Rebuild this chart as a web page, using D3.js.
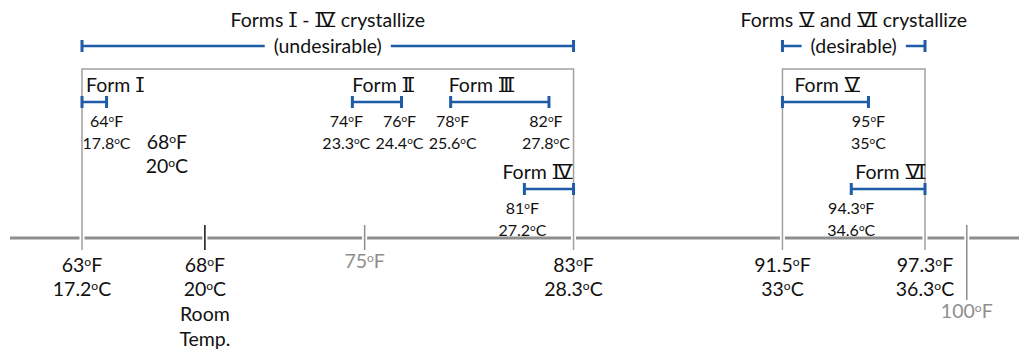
<!DOCTYPE html>
<html><head><meta charset="utf-8">
<script src="https://cdn.jsdelivr.net/npm/d3@7"></script>
<style>
body{margin:0;background:#fff}
text{font-family:Lato,"Open Sans",sans-serif;fill:#111}
</style>
</head><body>
<svg id="chart" width="1019" height="349"></svg>
<script>
// ---------------- data ----------------
const formNumerals = ["Ⅰ","Ⅱ","Ⅲ","Ⅳ","Ⅴ","Ⅵ"];
const formStartF   = [63, 74, 78, 81, 91.5, 94.3];
const formEndF     = [64, 76, 82, 83, 95, 97.3];
const formRow      = [0, 0, 0, 1, 0, 1];

const rangeLabelF   = [64, 74, 76, 78, 82, 81, 95, 94.3];
const rangeLabelC   = [17.8, 23.3, 24.4, 25.6, 27.8, 27.2, 35, 34.6];
const rangeLabelRow = [0, 0, 0, 0, 0, 1, 0, 1];

const axisF = [63, 68, 83, 91.5, 97.3];
const axisC = [17.2, 20, 28.3, 33, 36.3];
const axisExtra = ["", "Room|Temp.", "", "", ""];

const refTickLabels = ["75", "100"];
const refTickAt     = [74.5, 99.0];   // where the grey reference ticks sit on the axis

const groupStartF = [63, 91.5];
const groupEndF   = [83, 97.3];
const groupTitle  = ["Forms Ⅰ - Ⅳ crystallize", "Forms Ⅴ and Ⅵ crystallize"];
const groupSub    = ["(undesirable)", "(desirable)"];

const roomF = 68, roomC = 20;

// ---------------- layout ----------------
const W = 1019, H = 349;
const BLUE = "#1f5ba6", GREY = "#8e8e8e", BOXG = "#a0a0a0";
const axisY = 238, boxTop = 69, tickBottom = 250;
const rowBarY = [102, 189];
const labelNudge = [0, -6, -2, 2, -3, -2, 0, 0];
const formLabelDx = [4, 0, -2, -22, 12, 4];
const FS_BIG = 19.5, FS_SMALL = 16;

const svg = d3.select("#chart");
const x = d3.scaleLinear().domain([63, 97.3]).range([82, 925]);

function isRoman(ch){ const c = ch.charCodeAt(0); return c >= 0x2160 && c <= 0x217F; }
// text with Roman-numeral runs; numerals get bars above and below like the original glyphs
function mixed(t, str, fs){
  let runs = [], cur = "", curR = null;
  for (const ch of str){
    const r = isRoman(ch);
    if (curR !== null && r !== curR){ runs.push([cur, curR]); cur = ""; }
    cur += ch; curR = r;
  }
  if (cur) runs.push([cur, curR]);
  let idx = 0; const romanSpans = [];
  runs.forEach(([s, r]) => {
    const ts = t.append("tspan").text(s);
    if (r){
      ts.style("font-family", '"DejaVu Sans",sans-serif').attr("font-size", fs*1.02)
        .attr("dx", 1.5).style("letter-spacing", "1.5px");
      romanSpans.push([idx, idx + s.length - 1]);
    }
    idx += s.length;
  });
  const node = t.node(), y = +t.attr("y");
  const parent = d3.select(node.parentNode);
  romanSpans.forEach(([a, b]) => {
    const x0 = node.getStartPositionOfChar(a).x - 0.5;
    const x1 = node.getEndPositionOfChar(b).x - 0.5;
    const top = y - fs*0.73;
    parent.append("path").attr("d", `M${x0},${top}H${x1}M${x0},${y-0.6}H${x1}`)
      .attr("stroke", "#111").attr("stroke-width", 1.4).attr("fill", "none");
  });
  return t;
}
function deg(t, num, unit, fs){
  t.append("tspan").text(num);
  t.append("tspan").text("o").attr("font-size", fs*0.62).attr("dy", -fs*0.33);
  t.append("tspan").text(unit).attr("dy", fs*0.33);
  return t;
}

// main axis line
svg.append("line").attr("x1", 10).attr("x2", W).attr("y1", axisY).attr("y2", axisY)
  .attr("stroke", GREY).attr("stroke-width", 3);

function tick(xp, y1, y2, color){
  svg.append("line").attr("x1", xp).attr("x2", xp).attr("y1", y1).attr("y2", y2)
    .attr("stroke", "#fff").attr("stroke-width", 5);
  svg.append("line").attr("x1", xp).attr("x2", xp).attr("y1", y1).attr("y2", y2)
    .attr("stroke", color).attr("stroke-width", 1.5);
}

// group boxes with titles
groupStartF.forEach((s, i) => {
  const x0 = x(s), x1 = x(groupEndF[i]);
  svg.append("path").attr("d", `M${x0},${axisY-4}V${axisY+4}M${x1},${axisY-4}V${axisY+4}`)
    .attr("stroke","#fff").attr("stroke-width",5).attr("fill","none");
  svg.append("path").attr("d", `M${x0},${tickBottom}V${boxTop}H${x1}V${tickBottom}`)
    .attr("stroke", BOXG).attr("stroke-width", 1.5).attr("fill", "none");

  const cx = (x0 + x1) / 2;
  mixed(svg.append("text").attr("x", cx).attr("y", 27).attr("text-anchor", "middle")
    .attr("font-size", FS_BIG), groupTitle[i], FS_BIG);
  const sub = svg.append("text").attr("x", cx).attr("y", 53).attr("text-anchor", "middle")
    .attr("font-size", FS_BIG).text(groupSub[i]);
  const w = sub.node().getComputedTextLength();
  const gap = 9, ly = 46;
  const g = svg.append("g").attr("stroke", BLUE).attr("stroke-width", 2.5).attr("fill", "none");
  g.append("path").attr("d", `M${x0},${ly}H${cx - w/2 - gap}`);
  g.append("path").attr("d", `M${cx + w/2 + gap},${ly}H${x1}`);
  g.append("path").attr("d", `M${x0},${ly-6}V${ly+6}M${x1},${ly-6}V${ly+6}`).attr("stroke-width", 3);
});

// room temperature tick and grey reference ticks
tick(x(roomF), 225, tickBottom, "#111");
refTickAt.forEach((v, i) => tick(x(v), 225, i === 1 ? 300 : tickBottom, GREY));

// form bars
formStartF.forEach((s, i) => {
  const y = rowBarY[formRow[i]], x0 = x(s), x1 = x(formEndF[i]);
  const g = svg.append("g").attr("stroke", BLUE).attr("stroke-width", 2.5).attr("fill", "none");
  g.append("path").attr("d", `M${x0},${y}H${x1}`);
  g.append("path").attr("d", `M${x0},${y-6}V${y+6}M${x1},${y-6}V${y+6}`).attr("stroke-width", 3);
  mixed(svg.append("text").attr("x", x0 + formLabelDx[i]).attr("y", y - 10)
    .attr("font-size", FS_BIG), "Form " + formNumerals[i], FS_BIG);
});

// range end labels
rangeLabelF.forEach((f, i) => {
  const y = rowBarY[rangeLabelRow[i]];
  const xp = x(f) + labelNudge[i];
  deg(svg.append("text").attr("x", xp).attr("y", y + 25).attr("text-anchor", "middle").attr("font-size", FS_SMALL), f, "F", FS_SMALL);
  deg(svg.append("text").attr("x", xp).attr("y", y + 47).attr("text-anchor", "middle").attr("font-size", FS_SMALL), rangeLabelC[i], "C", FS_SMALL);
});

// room temp annotation inside the box
deg(svg.append("text").attr("x", x(roomF) - 38).attr("y", 149).attr("text-anchor", "middle").attr("font-size", FS_BIG), roomF, "F", FS_BIG);
deg(svg.append("text").attr("x", x(roomF) - 38).attr("y", 173).attr("text-anchor", "middle").attr("font-size", FS_BIG), roomC, "C", FS_BIG);

// axis labels
axisF.forEach((f, i) => {
  const xp = x(f);
  deg(svg.append("text").attr("x", xp).attr("y", 272).attr("text-anchor", "middle").attr("font-size", FS_BIG), f, "F", FS_BIG);
  deg(svg.append("text").attr("x", xp).attr("y", 296).attr("text-anchor", "middle").attr("font-size", FS_BIG), axisC[i], "C", FS_BIG);
  if (axisExtra[i]) axisExtra[i].split("|").forEach((s, k) =>
    svg.append("text").attr("x", xp).attr("y", 321 + k*24.5).attr("text-anchor", "middle").attr("font-size", FS_BIG).text(s));
});
refTickAt.forEach((v, i) => {
  const t = svg.append("text").attr("x", x(v)).attr("y", i === 1 ? 318 : 268).attr("text-anchor", "middle")
    .attr("font-size", FS_BIG).style("fill", GREY);
  deg(t, refTickLabels[i], "F", FS_BIG);
});
</script>
</body></html>
